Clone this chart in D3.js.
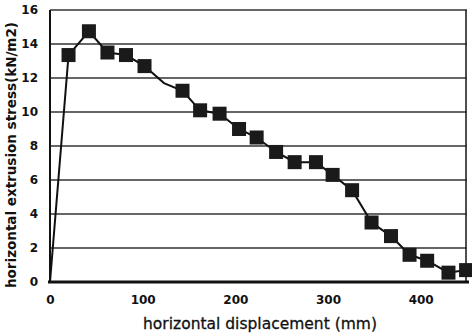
<!doctype html>
<html>
<head>
    <meta charset="UTF-8">
    <title>extrusion stress</title>
    <script src="https://d3js.org/d3.v7.min.js"></script>
    <style>
        body { margin: 0; background: #fff; }
        text { font-family: "DejaVu Sans", sans-serif; fill: #111; }
    </style>
</head>
<body>
    <script>
        // displacement (mm) and stress (kN/m2)
        var displacement = [0, 20, 42, 62, 82, 102, 123, 143, 162, 183, 204, 223, 244, 264, 287, 305, 326, 347, 368, 388, 407, 430, 449];
        var stress = [0, 13.35, 14.75, 13.5, 13.35, 12.7, 11.7, 11.25, 10.1, 9.9, 9.0, 8.5, 7.65, 7.05, 7.05, 6.3, 5.4, 3.5, 2.7, 1.6, 1.25, 0.55, 0.7];
        var marked = [false, true, true, true, true, true, false, true, true, true, true, true, true, true, true, true, true, true, true, true, true, true, true];
        var xTicks = [0, 100, 200, 300, 400];
        var yTicks = [0, 2, 4, 6, 8, 10, 12, 14, 16];

        var w = 472, h = 335;
        var pLeft = 50, pRight = 467, pTop = 10, pBottom = 282;

        var data = displacement.map(function(d, i){
            return {x: d, y: stress[i], m: marked[i]};
        });

        var x = d3.scaleLinear().domain([0, 450]).range([pLeft, pRight]);
        var y = d3.scaleLinear().domain([0, 16]).range([pBottom, pTop]);

        var svg = d3.select("body").append("svg")
            .attr("width", w)
            .attr("height", h);

        // grid lines
        svg.append("g")
            .selectAll("line")
            .data(yTicks.filter(function(d){ return d > 0; }))
            .enter().append("line")
            .attr("x1", pLeft)
            .attr("x2", pRight)
            .attr("y1", function(d){ return y(d); })
            .attr("y2", function(d){ return y(d); })
            .attr("stroke", "#333")
            .attr("stroke-width", 1.6);

        // frame
        svg.append("line")
            .attr("x1", pLeft).attr("x2", pLeft)
            .attr("y1", pTop).attr("y2", pBottom)
            .attr("stroke", "#111").attr("stroke-width", 2);
        svg.append("line")
            .attr("x1", pRight - 1).attr("x2", pRight - 1)
            .attr("y1", pTop).attr("y2", pBottom)
            .attr("stroke", "#222").attr("stroke-width", 1.6);
        svg.append("line")
            .attr("x1", pLeft - 2).attr("x2", pRight + 2)
            .attr("y1", pBottom).attr("y2", pBottom)
            .attr("stroke", "#111").attr("stroke-width", 3);

        // y axis labels
        var yAxis = d3.axisLeft(y).tickValues(yTicks).tickSize(0).tickPadding(12);
        var gy = svg.append("g")
            .attr("transform", "translate(" + pLeft + ",0)")
            .call(yAxis);
        gy.select(".domain").remove();
        gy.selectAll("text")
            .attr("font-size", 12)
            .attr("font-weight", "bold")
            .style("font-family", "DejaVu Sans");

        // x axis labels
        var xAxis = d3.axisBottom(x).tickValues(xTicks).tickSize(0).tickPadding(13);
        var gx = svg.append("g")
            .attr("transform", "translate(0," + pBottom + ")")
            .call(xAxis);
        gx.select(".domain").remove();
        gx.selectAll("text")
            .attr("font-size", 12)
            .attr("font-weight", "bold")
            .style("font-family", "DejaVu Sans");

        // line
        var line = d3.line()
            .x(function(d){ return x(d.x); })
            .y(function(d){ return y(d.y); });

        svg.append("path")
            .datum(data)
            .attr("d", line)
            .attr("fill", "none")
            .attr("stroke", "#111")
            .attr("stroke-width", 2);

        // square markers
        svg.append("g")
            .selectAll("rect")
            .data(data.filter(function(d){ return d.m; }))
            .enter().append("rect")
            .attr("x", function(d){ return x(d.x) - 7; })
            .attr("y", function(d){ return y(d.y) - 7; })
            .attr("width", 14)
            .attr("height", 14)
            .attr("fill", "#1a1a1a");

        // axis titles
        svg.append("text")
            .attr("x", 260)
            .attr("y", 329)
            .attr("text-anchor", "middle")
            .attr("font-size", 15.5)
            .attr("stroke", "#111")
            .attr("stroke-width", 0.3)
            .text("horizontal displacement (mm)");

        svg.append("text")
            .attr("transform", "translate(16,155) rotate(-90)")
            .attr("text-anchor", "middle")
            .attr("font-size", 13.5)
            .attr("font-weight", "bold")
            .text("horizontal extrusion stress(kN/m2)");
    </script>
</body>
</html>
